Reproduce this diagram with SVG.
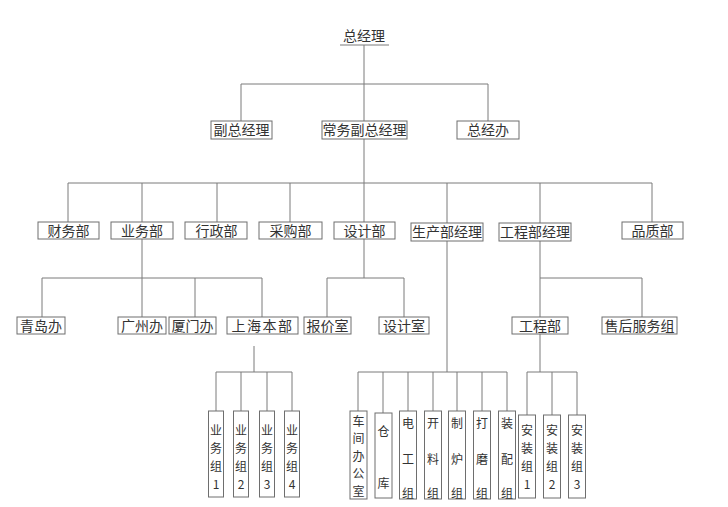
<svg xmlns="http://www.w3.org/2000/svg" width="728" height="507" viewBox="0 0 728 507">
<style>
  .bg{fill:#ffffff}
  .box{fill:#ffffff;stroke:#6e6e6e;stroke-width:1}
  .ln{fill:none;stroke:#7a7a7a;stroke-width:1}
  text{font-family:"Noto Sans CJK SC","Noto Sans",sans-serif;fill:#333333;font-weight:400}
  .t{font-size:14px;text-anchor:middle}
  .v{font-size:12px;text-anchor:middle;dominant-baseline:central}
</style>
<rect class="bg" x="0" y="0" width="728" height="507"/>

<g id="connectors">
  <line class="ln" x1="340" y1="45" x2="389" y2="45"/>
  <line class="ln" x1="364" y1="45" x2="364" y2="121"/>
  <line class="ln" x1="241" y1="84" x2="488" y2="84"/>
  <line class="ln" x1="241" y1="84" x2="241" y2="121"/>
  <line class="ln" x1="488" y1="84" x2="488" y2="121"/>
  <line class="ln" x1="364" y1="139" x2="364" y2="222"/>
  <line class="ln" x1="68" y1="183" x2="652" y2="183"/>
  <line class="ln" x1="68" y1="183" x2="68" y2="222"/>
  <line class="ln" x1="142" y1="183" x2="142" y2="222"/>
  <line class="ln" x1="217" y1="183" x2="217" y2="222"/>
  <line class="ln" x1="290" y1="183" x2="290" y2="222"/>
  <line class="ln" x1="447" y1="183" x2="447" y2="223"/>
  <line class="ln" x1="540" y1="183" x2="540" y2="223"/>
  <line class="ln" x1="652" y1="183" x2="652" y2="222"/>
  <line class="ln" x1="142" y1="239" x2="142" y2="317"/>
  <line class="ln" x1="42" y1="278" x2="262" y2="278"/>
  <line class="ln" x1="42" y1="278" x2="42" y2="317"/>
  <line class="ln" x1="195" y1="278" x2="195" y2="317"/>
  <line class="ln" x1="262" y1="278" x2="262" y2="317"/>
  <line class="ln" x1="364" y1="239" x2="364" y2="278"/>
  <line class="ln" x1="327" y1="278" x2="404" y2="278"/>
  <line class="ln" x1="327" y1="278" x2="327" y2="317"/>
  <line class="ln" x1="404" y1="278" x2="404" y2="317"/>
  <line class="ln" x1="540" y1="241" x2="540" y2="317"/>
  <line class="ln" x1="540" y1="278" x2="642" y2="278"/>
  <line class="ln" x1="642" y1="278" x2="642" y2="317"/>
  <line class="ln" x1="254" y1="346" x2="254" y2="372"/>
  <line class="ln" x1="216" y1="372" x2="292" y2="372"/>
  <line class="ln" x1="216" y1="372" x2="216" y2="411"/>
  <line class="ln" x1="241" y1="372" x2="241" y2="411"/>
  <line class="ln" x1="267" y1="372" x2="267" y2="411"/>
  <line class="ln" x1="292" y1="372" x2="292" y2="411"/>
  <line class="ln" x1="447" y1="241" x2="447" y2="372"/>
  <line class="ln" x1="358" y1="372" x2="507" y2="372"/>
  <line class="ln" x1="358" y1="372" x2="358" y2="411"/>
  <line class="ln" x1="383" y1="372" x2="383" y2="413"/>
  <line class="ln" x1="408" y1="372" x2="408" y2="411"/>
  <line class="ln" x1="433" y1="372" x2="433" y2="411"/>
  <line class="ln" x1="457" y1="372" x2="457" y2="411"/>
  <line class="ln" x1="482" y1="372" x2="482" y2="411"/>
  <line class="ln" x1="507" y1="372" x2="507" y2="411"/>
  <line class="ln" x1="540" y1="334" x2="540" y2="372"/>
  <line class="ln" x1="527" y1="372" x2="577" y2="372"/>
  <line class="ln" x1="527" y1="372" x2="527" y2="415"/>
  <line class="ln" x1="552" y1="372" x2="552" y2="415"/>
  <line class="ln" x1="577" y1="372" x2="577" y2="415"/>
</g>

<g id="n-zongjingli"><text class="t" x="364" y="41">总经理</text></g>

<g id="n-fuzong"><rect class="box" x="211" y="121" width="61" height="18"/><text class="t" x="241.5" y="135">副总经理</text></g>
<g id="n-changwu"><rect class="box" x="322" y="121" width="85" height="18"/><text class="t" x="364.5" y="135">常务副总经理</text></g>
<g id="n-zongjingban"><rect class="box" x="457" y="121" width="62" height="18"/><text class="t" x="488" y="135">总经办</text></g>

<g id="n-caiwu"><rect class="box" x="38" y="222" width="61" height="17"/><text class="t" x="68.5" y="236">财务部</text></g>
<g id="n-yewu"><rect class="box" x="111" y="222" width="62" height="17"/><text class="t" x="142" y="236">业务部</text></g>
<g id="n-xingzheng"><rect class="box" x="185" y="222" width="62" height="17"/><text class="t" x="216.5" y="236">行政部</text></g>
<g id="n-caigou"><rect class="box" x="259" y="222" width="63" height="17"/><text class="t" x="290.5" y="236">采购部</text></g>
<g id="n-sheji"><rect class="box" x="334" y="222" width="61" height="17"/><text class="t" x="364.5" y="236">设计部</text></g>
<g id="n-shengchan"><rect class="box" x="411" y="223" width="72" height="18"/><text class="t" x="447" y="237">生产部经理</text></g>
<g id="n-gongchengjl"><rect class="box" x="499" y="223" width="72" height="18"/><text class="t" x="535" y="237">工程部经理</text></g>
<g id="n-pinzhi"><rect class="box" x="622" y="222" width="61" height="17"/><text class="t" x="652.5" y="236">品质部</text></g>

<g id="n-qingdao"><rect class="box" x="17" y="317" width="48" height="17"/><text class="t" x="41" y="331">青岛办</text></g>
<g id="n-guangzhou"><rect class="box" x="118" y="317" width="48" height="17"/><text class="t" x="142" y="331">广州办</text></g>
<g id="n-xiamen"><rect class="box" x="169" y="317" width="47" height="17"/><text class="t" x="192.5" y="331">厦门办</text></g>
<g id="n-shanghai"><rect class="box" x="227" y="317" width="71" height="17"/><text class="t" x="262.5" y="331" letter-spacing="1.5">上海本部</text></g>
<g id="n-baojia"><rect class="box" x="304" y="317" width="47" height="17"/><text class="t" x="327.5" y="331">报价室</text></g>
<g id="n-shejishi"><rect class="box" x="379" y="317" width="50" height="17"/><text class="t" x="404" y="331">设计室</text></g>
<g id="n-gongcheng"><rect class="box" x="512" y="317" width="56" height="17"/><text class="t" x="540" y="331">工程部</text></g>
<g id="n-shouhou"><rect class="box" x="602" y="317" width="75" height="17"/><text class="t" x="639.5" y="331">售后服务组</text></g>

<g id="n-ywz1"><rect class="box" x="208.5" y="411" width="15" height="86"/>
  <text class="v" x="216" y="429">业</text><text class="v" x="216" y="447">务</text><text class="v" x="216" y="465">组</text><text class="v" x="216" y="483">1</text></g>
<g id="n-ywz2"><rect class="box" x="233.5" y="411" width="15" height="86"/>
  <text class="v" x="241" y="429">业</text><text class="v" x="241" y="447">务</text><text class="v" x="241" y="465">组</text><text class="v" x="241" y="483">2</text></g>
<g id="n-ywz3"><rect class="box" x="259.5" y="411" width="15" height="86"/>
  <text class="v" x="267" y="429">业</text><text class="v" x="267" y="447">务</text><text class="v" x="267" y="465">组</text><text class="v" x="267" y="483">3</text></g>
<g id="n-ywz4"><rect class="box" x="284.5" y="411" width="15" height="86"/>
  <text class="v" x="292" y="429">业</text><text class="v" x="292" y="447">务</text><text class="v" x="292" y="465">组</text><text class="v" x="292" y="483">4</text></g>

<g id="n-chejian"><rect class="box" x="350" y="411" width="17" height="88"/>
  <text class="v" x="358.5" y="420">车</text><text class="v" x="358.5" y="437.5">间</text><text class="v" x="358.5" y="455">办</text><text class="v" x="358.5" y="472.5">公</text><text class="v" x="358.5" y="490">室</text></g>
<g id="n-cangku"><rect class="box" x="375" y="413" width="17" height="85"/>
  <text class="v" x="383.5" y="430">仓</text><text class="v" x="383.5" y="482">库</text></g>
<g id="n-diangong"><rect class="box" x="399.5" y="411" width="17" height="88"/>
  <text class="v" x="408" y="422">电</text><text class="v" x="408" y="458">工</text><text class="v" x="408" y="492">组</text></g>
<g id="n-kailiao"><rect class="box" x="424.5" y="411" width="17" height="88"/>
  <text class="v" x="433" y="422">开</text><text class="v" x="433" y="458">料</text><text class="v" x="433" y="492">组</text></g>
<g id="n-zhilu"><rect class="box" x="448.5" y="411" width="17" height="88"/>
  <text class="v" x="457" y="422">制</text><text class="v" x="457" y="458">炉</text><text class="v" x="457" y="492">组</text></g>
<g id="n-damo"><rect class="box" x="473.5" y="411" width="17" height="88"/>
  <text class="v" x="482" y="422">打</text><text class="v" x="482" y="458">磨</text><text class="v" x="482" y="492">组</text></g>
<g id="n-zhuangpei"><rect class="box" x="498.5" y="411" width="17" height="88"/>
  <text class="v" x="507" y="422">装</text><text class="v" x="507" y="458">配</text><text class="v" x="507" y="492">组</text></g>

<g id="n-azz1"><rect class="box" x="518.5" y="415" width="17" height="83"/>
  <text class="v" x="527" y="429">安</text><text class="v" x="527" y="447">装</text><text class="v" x="527" y="465">组</text><text class="v" x="527" y="483">1</text></g>
<g id="n-azz2"><rect class="box" x="543.5" y="415" width="17" height="83"/>
  <text class="v" x="552" y="429">安</text><text class="v" x="552" y="447">装</text><text class="v" x="552" y="465">组</text><text class="v" x="552" y="483">2</text></g>
<g id="n-azz3"><rect class="box" x="568.5" y="415" width="17" height="83"/>
  <text class="v" x="577" y="429">安</text><text class="v" x="577" y="447">装</text><text class="v" x="577" y="465">组</text><text class="v" x="577" y="483">3</text></g>
</svg>
